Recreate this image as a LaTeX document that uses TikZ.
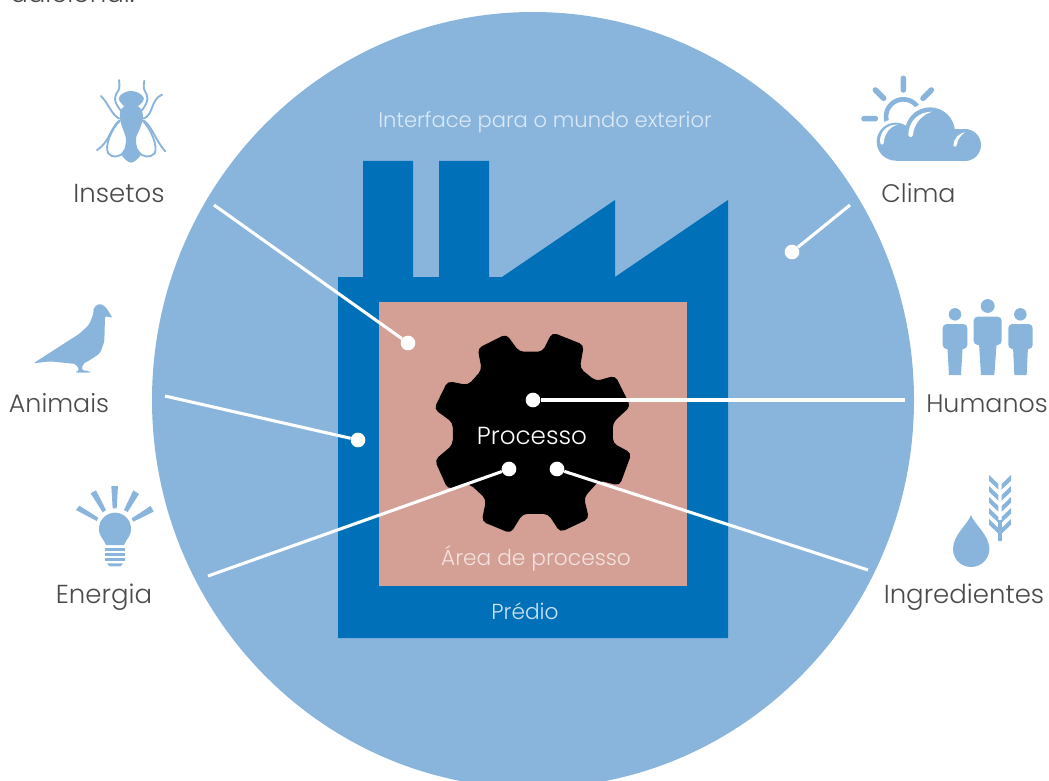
\documentclass[tikz,border=0pt]{standalone}
\usepackage{fontspec}
\setmainfont{Poppins}[UprightFont=* Light]
\definecolor{skyb}{HTML}{89B5DD}
\definecolor{factory}{HTML}{0071B8}
\definecolor{rosearea}{HTML}{D4A096}
\definecolor{inktext}{HTML}{4A4A4A}
\definecolor{softsky}{HTML}{DCE9F5}
\definecolor{softrose}{HTML}{F3E2DE}
\definecolor{softblue}{HTML}{CFE3F2}
\tikzset{
  x=0.75pt,y=-0.75pt,
  zoomat/.style 2 args={xshift=#1*0.75pt,yshift=-#2*0.75pt,x=0.25pt,y=-0.25pt},
  outer/.style={anchor=base,inner sep=0pt,text=inktext,font=\fontsize{19.5pt}{22pt}\selectfont},
  outersmall/.style={outer,font=\fontsize{19pt}{22pt}\selectfont},
  inner/.style={anchor=base,inner sep=0pt,text=white,font=\fontsize{16.3pt}{18pt}\selectfont},
  dot/.style={circle,fill=white,minimum size=11pt,inner sep=0pt},
  wire/.style={draw=white,line width=2.3pt},
  icon/.style={fill=skyb,draw=none},
  iconline/.style={draw=skyb,line width=1.4pt,line cap=round,fill=none},
}
\begin{document}
\begin{tikzpicture}
\useasboundingbox (0,0) rectangle (1049,781);
\clip (0,0) rectangle (1049,781);
\node[outer,anchor=base west] (note) at (10,3) {adicional.};
\fill[skyb] (533,400) ellipse[x radius=381*0.75pt,y radius=388*0.75pt];
\fill[factory] (338,277)--(363,277)--(363,161)--(413,161)--(413,277)--(439,277)--(439,161)--(489,161)--(489,277)--(502,277)--(615,200)--(615,277)--(728,200)--(728,638)--(338,638)--cycle;
\fill[rosearea] (379,302) rectangle (687,586);
% gear
\begin{scope}[xshift=417*0.75pt,yshift=-317*0.75pt,x=0.2555pt,y=-0.2555pt]
\fill[black,rounded corners=3.5pt] (178,92)--(262,50)--(300,102)--(368,102)--(397,45)--(490,82)--(478,150)--(525,188)--(582,172)--(627,262)--(575,310)--(575,370)--(630,400)--(595,495)--(535,480)--(490,530)--(505,592)--(420,632)--(385,578)--(310,578)--(275,635)--(190,600)--(203,535)--(155,490)--(90,505)--(52,420)--(105,375)--(105,310)--(50,270)--(90,188)--(150,200)--(190,155)--cycle;
\end{scope}
% labels
\node[inner,text=softsky,font=\fontsize{15.8pt}{18pt}\selectfont] (iface) at (545,128) {Interface para o mundo exterior};
\node[inner,text=softblue] (predio) at (525,619) {Prédio};
\node[inner,text=softrose] (area) at (536,565) {Área de processo};
\node[inner,font=\fontsize{18.5pt}{20pt}\selectfont] (proc) at (532,444) {Processo};
\node[outer] (insetos) at (119,202) {Insetos};
\node[outersmall] (animais) at (59,412) {Animais};
\node[outer] (energia) at (104,603) {Energia};
\node[outersmall] (clima) at (918.5,202) {Clima};
\node[outersmall] (humanos) at (987,412) {Humanos};
\node[outer] (ingred) at (964,603) {Ingredientes};
% dots and wires
\node[dot] (d1) at (408,343) {};
\node[dot] (d2) at (358,440) {};
\node[dot] (d3) at (533,400) {};
\node[dot] (d4) at (509,469) {};
\node[dot] (d5) at (557,469) {};
\node[dot] (d6) at (792,252) {};
\coordinate (e1) at (214,205);
\coordinate (e2) at (165,396);
\coordinate (e3) at (905,400);
\coordinate (e4) at (208,576);
\coordinate (e5) at (868,570);
\coordinate (e6) at (850,205);
\draw[wire] (e1)--(d1);
\draw[wire] (e2)--(d2);
\draw[wire] (e3)--(d3);
\draw[wire] (e4)--(d4);
\draw[wire] (e5)--(d5);
\draw[wire] (e6)--(d6);
% fly
\begin{scope}[zoomat={0}{0}]
\fill[icon] plot[smooth cycle,tension=0.7] coordinates {(393,273) (425,285) (428,305) (393,328) (360,305) (362,285)};
\fill[icon] plot[smooth cycle,tension=0.6] coordinates {(393,312) (422,326) (429,355) (420,385) (408,415) (412,445) (422,465) (393,488) (365,465) (374,445) (378,415) (368,385) (360,355) (365,326)};
\draw[iconline] (360,362) .. controls (335,385) and (312,440) .. (325,460) .. controls (335,475) and (360,472) .. (374,455);
\draw[iconline] (428,362) .. controls (452,385) and (475,440) .. (464,460) .. controls (452,475) and (426,472) .. (414,455);
\draw[iconline] (358,362) .. controls (330,385) and (330,425) .. (291,450);
\draw[iconline] (432,362) .. controls (460,385) and (465,420) .. (496,454);
\draw[iconline] (358,356) .. controls (335,345) and (325,310) .. (303,288);
\draw[iconline] (430,356) .. controls (462,345) and (450,300) .. (486,284);
\draw[iconline] (365,335) .. controls (335,300) and (345,285) .. (355,272) .. controls (360,262) and (358,250) .. (357,240);
\draw[iconline] (422,335) .. controls (452,300) and (442,285) .. (434,272) .. controls (429,262) and (432,250) .. (433,242);
\end{scope}
% bird
\begin{scope}[zoomat={0}{290}]
\fill[icon,rounded corners=1.5pt] (100,220)--(240,130)--(268,103)--(280,72)--(281,52)--(300,40)--(318,52)--(338,84)--(315,78)--(313,155)--(300,190)--(270,210)--(248,222)--(246,241)--(270,243)--(270,248)--(228,248)--(228,243)--(238,241)--(228,222)--(150,214)--cycle;
\end{scope}
% bulb
\begin{scope}[zoomat={0}{290}]
\fill[icon] (228,660)--(238,647)--(295,683)--(290,693)--cycle;
\fill[icon] (272,610)--(288,601)--(318,660)--(308,667)--cycle;
\fill[icon] (334,588)--(354,588)--(350,655)--(338,655)--cycle;
\fill[icon] (400,601)--(417,612)--(383,666)--(372,660)--cycle;
\fill[icon] (452,648)--(461,665)--(400,695)--(395,685)--cycle;
\fill[icon] (318,765) .. controls (310,745) and (297,740) .. (297,716) .. controls (297,688) and (320,668) .. (345,668) .. controls (370,668) and (393,688) .. (393,716) .. controls (393,740) and (380,745) .. (372,765) -- cycle;
\fill[icon] (316,773) rectangle (374,782);
\fill[icon] (316,789) rectangle (374,798);
\fill[icon] (316,805) rectangle (374,814);
\fill[icon] (321,820)--(369,820)--(362,829)--(328,829)--cycle;
\end{scope}
% cloud
\begin{scope}[zoomat={850}{60}]
\draw[skyb,line width=3.5pt] (160,170) circle[radius=13pt];
\draw[skyb,line width=4.2pt,line cap=round] (160,55)--(160,90) (76,90)--(101,115) (244,90)--(219,115) (42,176)--(76,176);
\fill[white] (137,245) circle[radius=17pt] (240,217) circle[radius=22pt];
\fill[icon] (137,302)--(345,302)--(345,208)--(137,208)--cycle;
\fill[icon] (137,245) circle[radius=14.25pt] (240,217) circle[radius=18.75pt] (345,255) circle[radius=12pt];
\fill[white] (91,250) .. controls (86,220) and (108,192) .. (143,194) .. controls (118,200) and (103,222) .. (101,250) .. controls (98,256) and (93,255) .. (91,250) -- cycle;
\fill[white] (175,225) .. controls (175,185) and (205,155) .. (246,155) .. controls (215,165) and (192,190) .. (189,225) .. controls (186,233) and (178,233) .. (175,225) -- cycle;
\fill[white] (310,256) .. controls (312,235) and (325,220) .. (345,217) .. controls (332,225) and (322,240) .. (320,256) .. controls (318,262) and (312,262) .. (310,256) -- cycle;
\end{scope}
% people
\begin{scope}[zoomat={880}{290}]
\fill[icon] (323,48) circle[radius=5.2pt] (225,73) circle[radius=4.7pt] (421,73) circle[radius=4.7pt];
\fill[icon,rounded corners=3pt] (281,80) rectangle (365,165);
\fill[icon] (297,160)--(350,160)--(343,255)--(303,255)--cycle;
\fill[icon,rounded corners=3pt] (188,102) rectangle (262,177);
\fill[icon] (202,170)--(248,170)--(243,255)--(207,255)--cycle;
\fill[icon,rounded corners=3pt] (385,102) rectangle (458,177);
\fill[icon] (399,170)--(444,170)--(440,255)--(403,255)--cycle;
\end{scope}
% drop and wheat
\begin{scope}[zoomat={880}{290}]
\fill[icon] (273,675) .. controls (262,705) and (219,735) .. (219,777) .. controls (219,807) and (243,831) .. (273,831) .. controls (303,831) and (328,807) .. (328,777) .. controls (328,735) and (284,705) .. (273,675) -- cycle;
\fill[icon] (355,690) rectangle (365,752);
\foreach \yy in {555,588,621,654,687}{
  \fill[icon] (327,\yy)--(355,\yy+27)--(355,\yy+44)--(327,\yy+17)--cycle;
  \fill[icon] (393,\yy)--(365,\yy+27)--(365,\yy+44)--(393,\yy+17)--cycle;
}
\end{scope}
\end{tikzpicture}
\end{document}
